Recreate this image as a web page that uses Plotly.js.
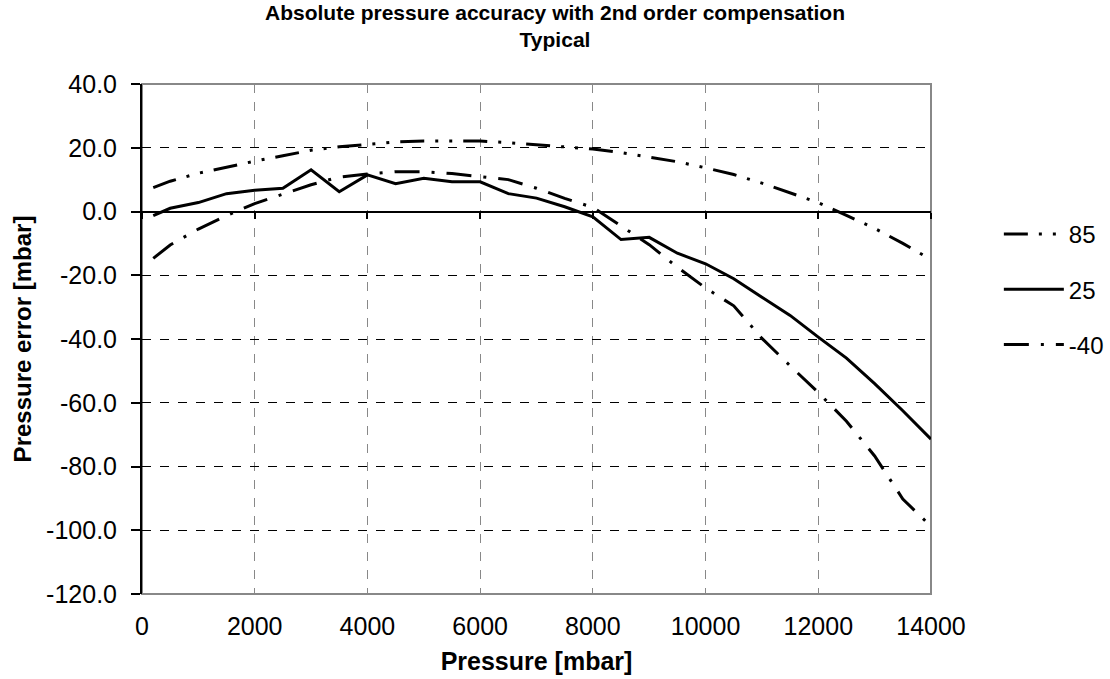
<!DOCTYPE html>
<html>
<head>
<meta charset="utf-8">
<script src="https://cdn.plot.ly/plotly-3.0.1.min.js"></script>
<style>html,body{margin:0;padding:0;background:#fff;}#chart{width:1110px;height:679px;}</style>
</head>
<body>
<div id="chart"></div>
<script>
const pressure = [200, 500, 1000, 1500, 2000, 2500, 3000, 3500, 4000, 4500, 5000, 5500, 6000, 6500, 7000, 7500, 8000, 8500, 9000, 9500, 10000, 10500, 11000, 11500, 12000, 12500, 13000, 13500, 14000];
const err85 = [7.5, 9.5, 12.0, 14.0, 15.8, 17.5, 19.2, 20.3, 21.1, 21.8, 22.1, 22.2, 22.1, 21.6, 20.9, 20.3, 19.6, 18.5, 17.1, 15.6, 13.7, 11.6, 8.9, 5.8, 2.8, -1.2, -5.3, -10.0, -15.1];
const err25 = [-1.3, 1.0, 2.8, 5.6, 6.7, 7.3, 13.1, 6.2, 11.5, 8.7, 10.4, 9.3, 9.3, 5.6, 4.2, 1.5, -1.7, -8.8, -8.1, -13.1, -16.4, -21.1, -26.9, -32.6, -39.4, -46.0, -54.0, -62.5, -71.4];
const errM40 = [-14.7, -10.5, -5.5, -1.3, 2.5, 5.5, 8.4, 10.8, 11.8, 12.5, 12.5, 11.9, 10.9, 10.0, 7.3, 4.1, 1.3, -4.5, -10.4, -17.5, -24.0, -29.6, -39.8, -48.4, -56.8, -65.8, -76.7, -90.2, -98.8];
const seriesNames = ['85', '25', '-40'];

const xTickVals = [0, 2000, 4000, 6000, 8000, 10000, 12000, 14000];
const xTickText = ['0', '2000', '4000', '6000', '8000', '10000', '12000', '14000'];
const yTickVals = [-120, -100, -80, -60, -40, -20, 0, 20, 40];
const yTickText = ['-120.0', '-100.0', '-80.0', '-60.0', '-40.0', '-20.0', '0.0', '20.0', '40.0'];

const FONT = 'Liberation Sans, Arial, sans-serif';

const traces = [
  {x: pressure, y: err85, name: seriesNames[0], mode: 'lines', legendgroup: 'a',
   line: {color: '#000', width: 3, dash: '24px,11px,3px,11px,3px,11px'}},
  {x: pressure, y: err25, name: seriesNames[1], mode: 'lines', legendgroup: 'b',
   line: {color: '#000', width: 3}},
  {x: pressure, y: errM40, name: seriesNames[2], mode: 'lines', legendgroup: 'c',
   line: {color: '#000', width: 3, dash: '25px,12px,3px,12px'}},
  // invisible helper trace so the crossing axis at y = 0 (x2/y2) gets drawn
  {x: pressure, y: err25, xaxis: 'x2', yaxis: 'y2', mode: 'lines', opacity: 0,
   line: {width: 0}, showlegend: false, hoverinfo: 'skip'}
];

const yMin = -120, yMax = 40;
const zeroFrac = (0 - yMin) / (yMax - yMin);

const layout = {
  width: 1110, height: 679,
  paper_bgcolor: '#fff', plot_bgcolor: 'rgba(0,0,0,0)',
  margin: {l: 142, r: 179, t: 84, b: 85, autoexpand: false},
  font: {family: FONT, size: 24, color: '#000'},
  title: {
    text: 'Absolute pressure accuracy with 2nd order compensation<br>Typical',
    font: {family: FONT, size: 21, weight: 'bold', color: '#000'},
    x: 0.5, xref: 'container', xanchor: 'center',
    y: 0.971, yref: 'container', yanchor: 'top'
  },
  showlegend: true,
  legend: {
    x: 1.086, xanchor: 'left', y: 0.749, yanchor: 'top',
    font: {family: FONT, size: 24, color: '#000'},
    traceorder: 'grouped', tracegroupgap: 21,
    bgcolor: 'rgba(0,0,0,0)', itemwidth: 60
  },
  xaxis: {
    range: [0, 14000], tickvals: xTickVals, ticktext: xTickText,
    showgrid: true, gridcolor: '#888', griddash: 'dash', gridwidth: 1,
    zeroline: false, showline: false, ticks: '',
    ticklabelstandoff: 15,
    tickfont: {family: FONT, size: 25, color: '#000'},
    title: {text: 'Pressure [mbar]', font: {family: FONT, size: 25, weight: 'bold', color: '#000'}, standoff: 13},
    fixedrange: true
  },
  xaxis2: {
    anchor: 'y2', side: 'bottom',
    range: [0, 14000], tickvals: xTickVals,
    showgrid: false, zeroline: false, showline: false,
    ticks: 'outside', ticklen: 6, tickcolor: '#000', tickwidth: 2,
    showticklabels: false, fixedrange: true
  },
  yaxis2: {
    anchor: 'x2', domain: [zeroFrac, 1], range: [1000, 1001],
    visible: false, showgrid: false, zeroline: false, fixedrange: true
  },
  yaxis: {
    range: [yMin, yMax], tickvals: yTickVals, ticktext: yTickText,
    showgrid: true, gridcolor: '#000', griddash: 'dash', gridwidth: 1,
    zeroline: true, zerolinecolor: '#000', zerolinewidth: 2,
    showline: true, linecolor: '#000', linewidth: 2,
    ticks: 'outside', ticklen: 9, tickcolor: '#000', tickwidth: 2,
    ticklabelstandoff: 9,
    tickfont: {family: FONT, size: 25, color: '#000'},
    title: {text: 'Pressure error [mbar]', font: {family: FONT, size: 24, weight: 'bold', color: '#000'}, standoff: 8},
    fixedrange: true
  },
  shapes: [
    {type: 'rect', xref: 'paper', yref: 'paper', x0: 0, x1: 1, y0: 0, y1: 1,
     line: {color: '#888', width: 2}, layer: 'below'}
  ]
};

Plotly.newPlot('chart', traces, layout, {staticPlot: true, displayModeBar: false});
</script>
</body>
</html>
